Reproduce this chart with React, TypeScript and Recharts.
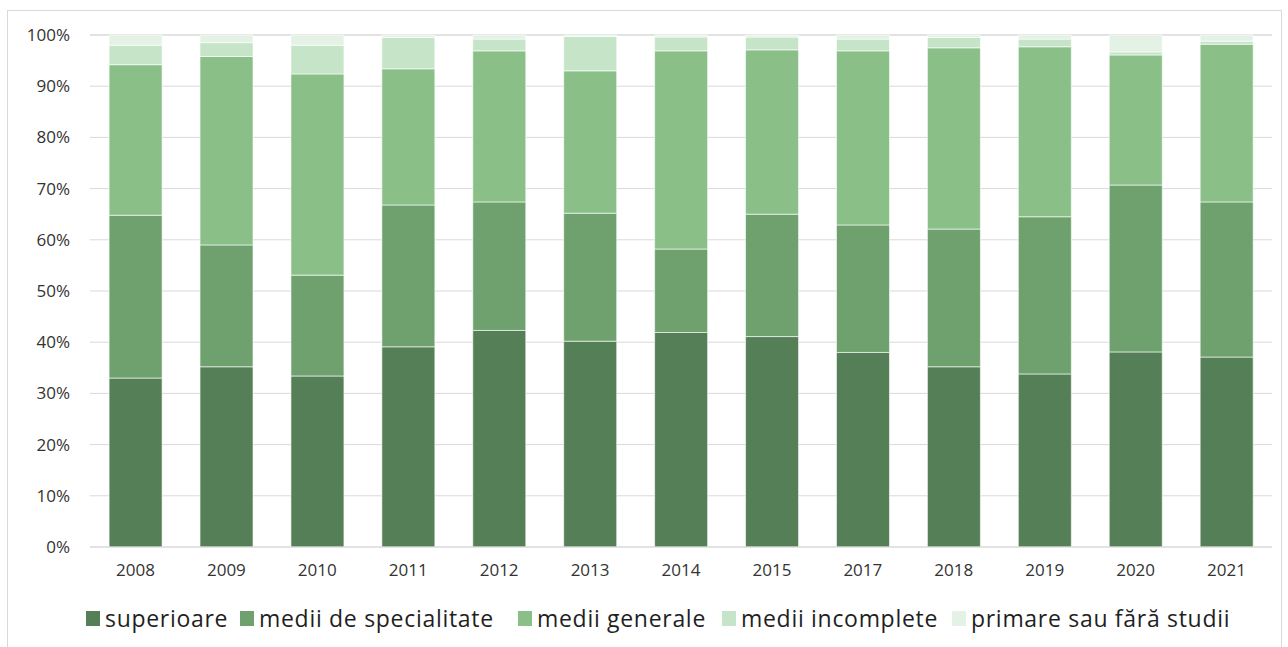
import React from "react";
import { BarChart, Bar, XAxis, YAxis, CartesianGrid } from "recharts";

const years = ["2008", "2009", "2010", "2011", "2012", "2013", "2014", "2015", "2017", "2018", "2019", "2020", "2021"];

// shares in %
const superioare = [33.0, 35.2, 33.4, 39.1, 42.3, 40.2, 41.9, 41.1, 38.0, 35.2, 33.8, 38.1, 37.1];
const specialitate = [31.8, 23.8, 19.7, 27.7, 25.1, 25.0, 16.3, 23.9, 24.9, 26.9, 30.7, 32.6, 30.3];
const generale = [29.4, 36.8, 39.3, 26.6, 29.5, 27.8, 38.7, 32.1, 34.0, 35.4, 33.2, 25.4, 30.8];
const incomplete = [3.8, 2.7, 5.6, 6.1, 2.3, 6.7, 2.7, 2.5, 2.3, 2.0, 1.5, 0.6, 0.6];
const primare = [2.0, 1.5, 2.0, 0.5, 0.8, 0.3, 0.4, 0.4, 0.8, 0.5, 0.8, 3.3, 1.2];

const yTicks = [0, 10, 20, 30, 40, 50, 60, 70, 80, 90, 100];

const series = [
  { key: "sup", name: "superioare", color: "#557f56", values: superioare },
  { key: "spec", name: "medii de specialitate", color: "#6ea16e", values: specialitate },
  { key: "gen", name: "medii generale", color: "#8ac088", values: generale },
  { key: "inc", name: "medii incomplete", color: "#c6e4c7", values: incomplete },
  { key: "prim", name: "primare sau fără studii", color: "#e4f2e5", values: primare },
];

const data = years.map((y, i) => {
  const row: any = { year: y };
  series.forEach((s) => (row[s.key] = s.values[i]));
  return row;
});

const legendX = [86, 240, 518, 722, 952];

const font = "'Open Sans', sans-serif";

export default function App() {
  return (
    <div style={{ position: "absolute", left: 0, top: 0, width: 1288, height: 647, background: "#fff", fontFamily: font }}>
      <div
        style={{
          position: "absolute",
          left: 7,
          top: 10,
          width: 1275,
          height: 640,
          border: "1px solid #d9d9d9",
          boxSizing: "border-box",
        }}
      />
      <div style={{ position: "absolute", left: 0, top: 0 }}>
        <BarChart
          width={1288}
          height={647}
          data={data}
          margin={{ top: 35, right: 16, left: 0, bottom: 60 }}
          barCategoryGap="21%"
        >
          <CartesianGrid vertical={false} stroke="#d9d9d9" strokeWidth={1} />
          <XAxis
            dataKey="year"
            height={40}
            axisLine={{ stroke: "#d9d9d9" }}
            tickLine={false}
            tickMargin={11}
            tick={{ fill: "#333333", fontSize: 17, fontFamily: font }}
          />
          <YAxis
            width={90}
            domain={[0, 100]}
            ticks={yTicks}
            interval={0}
            axisLine={false}
            tickLine={false}
            tickMargin={14}
            tickFormatter={(v) => `${v}%`}
            tick={{ fill: "#333333", fontSize: 17, fontFamily: font }}
          />
          {series.map((s) => (
            <Bar
              key={s.key}
              dataKey={s.key}
              name={s.name}
              stackId="a"
              fill={s.color}
              stroke="#ffffff"
              strokeWidth={0.6}
              isAnimationActive={false}
            />
          ))}
        </BarChart>
      </div>
      {series.map((s, i) => (
        <div
          key={s.key}
          style={{
            position: "absolute",
            left: legendX[i],
            top: 603,
            height: 30,
            display: "flex",
            alignItems: "center",
            whiteSpace: "nowrap",
            fontSize: 23,
            letterSpacing: 0.7,
            color: "#1f1f1f",
          }}
        >
          <span style={{ display: "inline-block", width: 14, height: 15, background: s.color, marginRight: 5 }} />
          {s.name}
        </div>
      ))}
    </div>
  );
}
